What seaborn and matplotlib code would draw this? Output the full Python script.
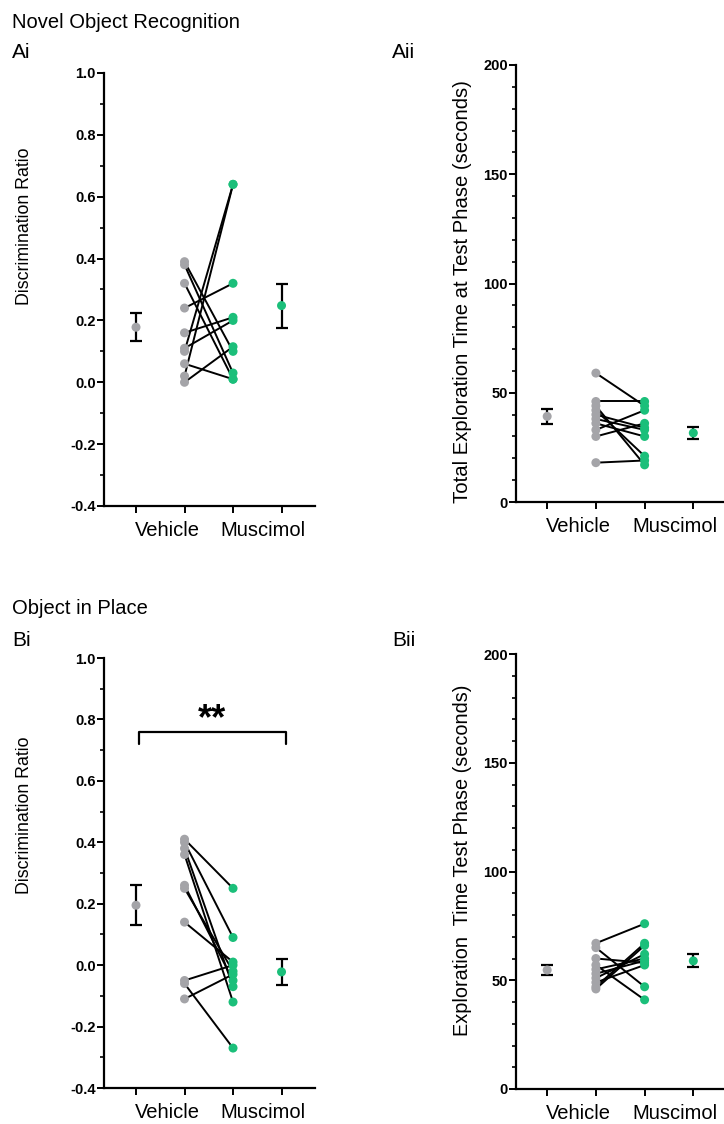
import matplotlib
matplotlib.use("Agg")
import matplotlib.pyplot as plt
import seaborn as sns
import pandas as pd
from matplotlib.ticker import MultipleLocator, FixedLocator, FixedFormatter, FuncFormatter

sns.set_style("ticks")
plt.rcParams['font.family'] = ['Liberation Sans', 'DejaVu Sans']
plt.rcParams['axes.unicode_minus'] = False
for k in ("text.color", "axes.labelcolor", "xtick.color", "ytick.color", "axes.edgecolor"):
    plt.rcParams[k] = "black"

GRAY = "#A4A4A8"
GREEN = "#1BBF7A"

group_labels = ["Vehicle", "Muscimol"]

# Novel Object Recognition - discrimination ratio (paired)
nor_dr_vehicle = [0.39, 0.38, 0.32, 0.24, 0.16, 0.11, 0.10, 0.06, 0.02, 0.00]
nor_dr_muscimol = [0.10, 0.03, 0.01, 0.32, 0.21, 0.20, 0.64, 0.01, 0.64, 0.115]
nor_dr_mean = [0.178, 0.248]
nor_dr_sem = [0.046, 0.071]

# Novel Object Recognition - total exploration time (s)
nor_time_vehicle = [59, 46, 44, 42, 40, 38, 36, 33, 30, 18]
nor_time_muscimol = [44, 46, 17, 21, 34, 33, 30, 42, 36, 19]
nor_time_mean = [39.2, 31.6]
nor_time_sem = [3.5, 2.9]

# Object in Place - discrimination ratio (paired)
oip_dr_vehicle = [0.41, 0.40, 0.38, 0.36, 0.26, 0.25, 0.14, -0.05, -0.06, -0.11]
oip_dr_muscimol = [0.25, 0.09, -0.07, -0.12, -0.05, -0.02, 0.01, 0.00, -0.27, -0.03]
oip_dr_mean = [0.195, -0.022]
oip_dr_sem = [0.065, 0.042]

# Object in Place - exploration time (s)
oip_time_vehicle = [67, 65, 60, 57, 55, 53, 51, 49, 47, 46]
oip_time_muscimol = [76, 47, 58, 41, 60, 59, 62, 57, 67, 66]
oip_time_mean = [54.7, 58.9]
oip_time_sem = [2.1, 3.0]

W, H = 724, 1124
fig = plt.figure(figsize=(W / 100, H / 100), dpi=100)


def add_ax(left, right, top, bottom):
    return fig.add_axes([left / W, 1 - bottom / H, (right - left) / W, (bottom - top) / H])


def panel(ax, veh, mus, means, sems, ylim, major, minor, ylabel, fmt, xlim,
          label_xy, label_size):
    n = len(veh)
    df = pd.DataFrame({
        "subject": list(range(n)) * 2,
        "pos": [1] * n + [2] * n,
        "value": list(veh) + list(mus),
        "group": ["Vehicle"] * n + ["Muscimol"] * n,
    })
    sns.lineplot(data=df, x="pos", y="value", units="subject", estimator=None,
                 color="black", lw=1.4, ax=ax, zorder=2, legend=False)
    sns.scatterplot(data=df, x="pos", y="value", hue="group",
                    palette={"Vehicle": GRAY, "Muscimol": GREEN},
                    s=42, edgecolor="none", linewidth=0, ax=ax, zorder=3, legend=False)
    ax.errorbar([0, 3], means, yerr=sems, fmt="none", ecolor="black",
                elinewidth=1.6, capsize=4.5, capthick=1.6, zorder=2)
    sns.scatterplot(x=[0, 3], y=means, hue=["Vehicle", "Muscimol"],
                    palette={"Vehicle": GRAY, "Muscimol": GREEN},
                    s=42, edgecolor="none", linewidth=0, ax=ax, zorder=3, legend=False)
    ax.set_ylim(*ylim)
    ax.set_xlim(*xlim)
    ax.yaxis.set_major_locator(MultipleLocator(major))
    ax.yaxis.set_minor_locator(MultipleLocator(minor))
    ax.yaxis.set_major_formatter(FuncFormatter(lambda v, p: fmt.format(v)))
    for lab in ax.get_yticklabels():
        lab.set_fontweight("bold")
    ax.xaxis.set_major_locator(FixedLocator([0, 1, 2, 3]))
    ax.xaxis.set_major_formatter(FixedFormatter(["", "", "", ""]))
    ax.xaxis.set_minor_locator(FixedLocator([0.64, 2.62]))
    ax.xaxis.set_minor_formatter(FixedFormatter(group_labels))
    ax.tick_params(axis="x", which="minor", length=0, labelsize=14.5, pad=11)
    ax.tick_params(axis="x", which="major", length=5, width=1.4)
    ax.tick_params(axis="y", which="major", length=5, width=1.4, labelsize=10.5, pad=1)
    ax.tick_params(axis="y", which="minor", length=3, width=1.2)
    ax.set_xlabel("")
    ax.set_ylabel(ylabel, fontsize=label_size)
    ax.yaxis.set_label_coords(label_xy[0] / W, 1 - label_xy[1] / H, transform=fig.transFigure)
    ax.yaxis.label.set_verticalalignment("center")
    ax.yaxis.label.set_horizontalalignment("center")
    sns.despine(ax=ax)
    for sp in ("left", "bottom"):
        ax.spines[sp].set_linewidth(1.6)
    ax.patch.set_alpha(0)


axA1 = add_ax(104, 315, 73, 506)
panel(axA1, nor_dr_vehicle, nor_dr_muscimol, nor_dr_mean, nor_dr_sem,
      (-0.4, 1.0), 0.2, 0.1, "Discrimination Ratio", "{:.1f}", (-0.66, 3.69),
      (25, 226), 12.8)

axA2 = add_ax(516, 724, 65, 502)
panel(axA2, nor_time_vehicle, nor_time_muscimol, nor_time_mean, nor_time_sem,
      (0, 200), 50, 10, "Total Exploration Time at Test Phase (seconds)", "{:.0f}", (-0.64, 3.63),
      (462, 292), 14.6)

axB1 = add_ax(104, 315, 658, 1088)
panel(axB1, oip_dr_vehicle, oip_dr_muscimol, oip_dr_mean, oip_dr_sem,
      (-0.4, 1.0), 0.2, 0.1, "Discrimination Ratio", "{:.1f}", (-0.66, 3.69),
      (25, 815), 12.8)
axB1.plot([0.07, 0.07, 3.1, 3.1], [0.72, 0.76, 0.76, 0.72], color="black", lw=1.6)
axB1.text(1.56, 0.80, "**", ha="center", va="center", fontsize=26, fontweight="bold")

axB2 = add_ax(516, 724, 654, 1089)
panel(axB2, oip_time_vehicle, oip_time_muscimol, oip_time_mean, oip_time_sem,
      (0, 200), 50, 10, "Exploration  Time Test Phase (seconds)", "{:.0f}", (-0.64, 3.63),
      (462, 860), 14.3)

fig.text(12 / W, 1 - 22 / H, "Novel Object Recognition", fontsize=14.5, va="center", ha="left")
fig.text(12 / W, 1 - 52 / H, "Ai", fontsize=15, va="center", ha="left")
fig.text(392 / W, 1 - 52 / H, "Aii", fontsize=15, va="center", ha="left")
fig.text(12 / W, 1 - 609 / H, "Object in Place", fontsize=14.5, va="center", ha="left")
fig.text(12 / W, 1 - 640 / H, "Bi", fontsize=15, va="center", ha="left")
fig.text(392 / W, 1 - 640 / H, "Bii", fontsize=15, va="center", ha="left")

fig.savefig("out.png", dpi=100)
